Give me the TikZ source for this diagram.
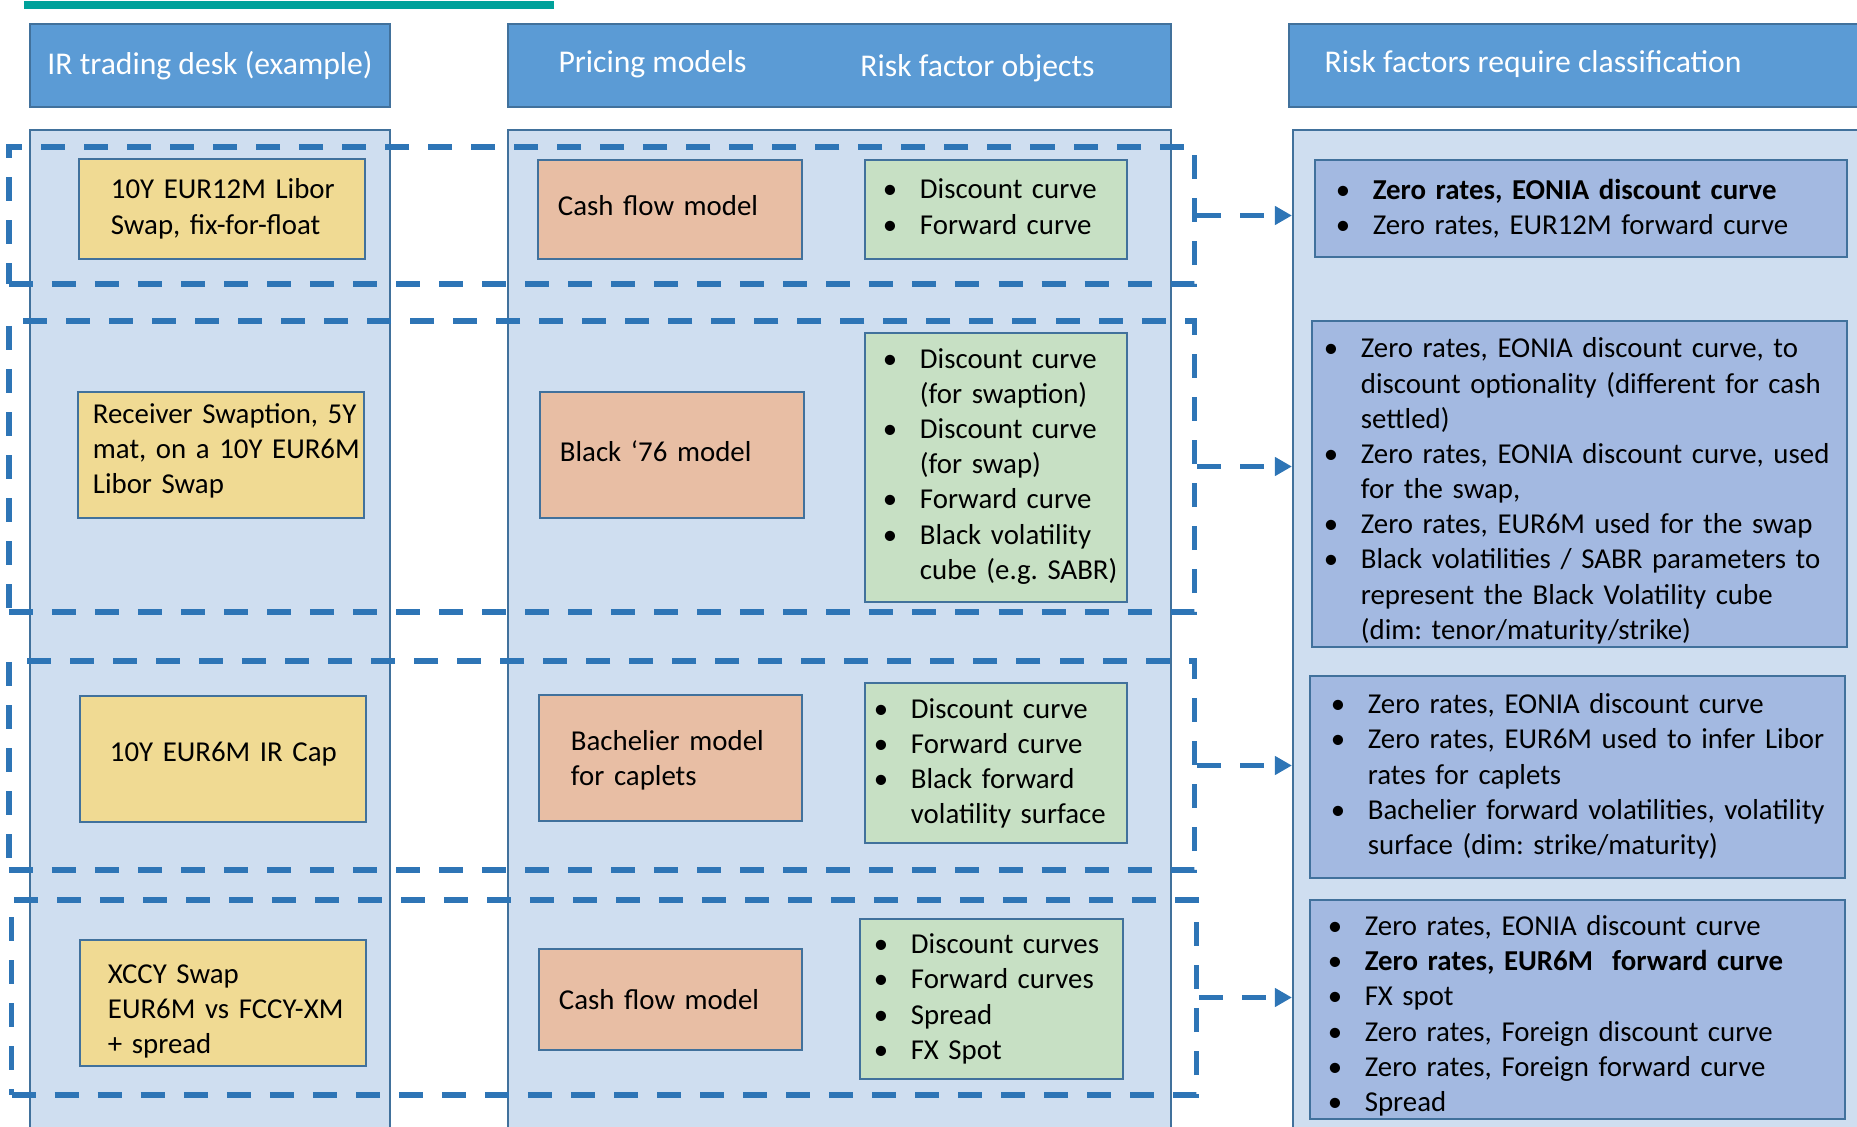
\documentclass[tikz,border=0pt]{standalone}
\usepackage{fontspec}
\setmainfont{Carlito}
\usetikzlibrary{positioning}
\usetikzlibrary{arrows.meta}
\usetikzlibrary{calc}

\definecolor{headblue}{RGB}{91,155,213}
\definecolor{edge}{RGB}{65,113,156}
\definecolor{colfill}{RGB}{207,222,240}
\definecolor{deskyellow}{RGB}{240,218,147}
\definecolor{modelsalmon}{RGB}{232,190,164}
\definecolor{objgreen}{RGB}{199,224,196}
\definecolor{riskblue}{RGB}{163,185,225}
\definecolor{dashblue}{RGB}{46,117,182}
\definecolor{tealbar}{RGB}{0,161,154}

\frenchspacing
\newcommand{\hdrfont}{\fontsize{9}{11}\selectfont}
\newcommand{\bodyfont}{\fontsize{8.2}{10}\selectfont\lineskip=0pt}

% one bullet item, lines broken with \\
\newlength{\bulw}
\setlength{\bulw}{0.37cm}
\newcommand{\itm}[1]{\par\noindent\makebox[\bulw][l]{\textbullet}\begin{tabular}[t]{@{}l@{}}#1\end{tabular}}
% plain lines without wrapping
\newcommand{\lns}[1]{\noindent\begin{tabular}[t]{@{}l@{}}#1\end{tabular}}
% extra space below the text of a box
\newcommand{\liftby}[1]{\par\vspace{#1}\hrule height 0pt}

\begin{document}
\begin{tikzpicture}[x=0.01cm, y=-0.01cm,
	colbox/.style={draw=edge, line width=0.018cm, fill=colfill, minimum height=10.2cm},
	hdr/.style={draw=edge, line width=0.02cm, fill=headblue, text=white, font=\hdrfont, minimum height=0.83cm},
	hdrtxt/.style={text=white, font=\hdrfont, inner sep=0pt},
	box/.style={draw=edge, line width=0.02cm, font=\bodyfont, align=left, inner ysep=0pt},
	ybox/.style={box, fill=deskyellow, minimum width=2.86cm},
	pbox/.style={box, fill=modelsalmon, inner xsep=0.2cm, text width=2.24cm},
	gbox/.style={box, fill=objgreen},
	bbox/.style={box, fill=riskblue},
	lift/.style={execute at end node={\liftby{#1}}},
	grp/.style={draw=dashblue, line width=0.055cm, dash pattern=on 0.24cm off 0.19cm},
	arr/.style={grp, -{Triangle[length=0.17cm, width=0.18cm]}}]

	% frame of the picture
	\useasboundingbox (0,0) rectangle (1857,1127);
	\clip (0,0) rectangle (1857,1127);

	% teal bar on top
	\fill[tealbar] (24,1) rectangle (554,9);

	% columns
	\node[colbox, minimum width=3.60cm] (col1) at (210,640) {};
	\node[colbox, minimum width=6.63cm] (col2) at (839.5,640) {};
	\node[colbox, minimum width=5.97cm] (col3) at (1591.5,640) {};

	% headers
	\node[hdr, minimum width=3.60cm] (head1) at (210,65.5) {IR trading desk (example)};
	\node[hdr, minimum width=6.63cm] (head2) at (839.5,65.5) {};
	\node[hdr, minimum width=6.01cm] (head3) at (1589.5,65.5) {};
	\node[hdrtxt] (pricing) at (652.5,64.5) {Pricing models};
	\node[hdrtxt] (objects) at (977.5,68.5) {Risk factor objects};
	\node[hdrtxt, anchor=west] (classes) at (1324,64.5) {Risk factors require classification};

	% trades
	\node[ybox, minimum height=1.00cm, inner xsep=0.32cm, text width=2.22cm, lift=-0.3pt] (swap) at (222,209)
		{\lns{10Y EUR12M Libor\\Swap, fix-for-float}};
	\node[ybox, minimum height=1.26cm, inner xsep=0.15cm, text width=2.56cm, lift=2pt] (swaption) at (221,455)
		{\lns{Receiver Swaption, 5Y\\mat, on a 10Y EUR6M\\Libor Swap}};
	\node[ybox, minimum height=1.26cm, inner xsep=0.30cm, text width=2.26cm, lift=2.4pt] (cap) at (223,759)
		{\lns{10Y EUR6M IR Cap}};
	\node[ybox, minimum height=1.26cm, inner xsep=0.28cm, text width=2.30cm, lift=-4.7pt] (xccy) at (223,1003)
		{\lns{XCCY Swap\\EUR6M vs FCCY-XM\\+ spread}};

	% pricing models
	\node[pbox, minimum height=0.99cm, lift=2pt] (cashflow) at (670,209.5) {Cash flow model};
	\node[pbox, minimum height=1.26cm, lift=2pt] (black) at (672,455) {Black ‘76 model};
	\node[pbox, minimum height=1.26cm, inner xsep=0.32cm, text width=1.99cm, lift=-1.3pt] (bachelier) at (670.5,758) {Bachelier model\\for caplets};
	\node[pbox, minimum height=1.01cm, text width=2.23cm] (cashflowx) at (670.5,999.5) {Cash flow model};

	% risk factor objects
	\node[gbox, minimum height=0.99cm, inner xsep=0.18cm, text width=2.26cm, lift=3pt] (obj1) at (996,209.5)
		{\itm{Discount curve}\itm{Forward curve}};
	\node[gbox, minimum height=2.63cm, inner xsep=0.18cm, text width=2.26cm, lift=3.4pt] (obj2) at (996,467.5)
		{\itm{Discount curve\\(for swaption)}\itm{Discount curve\\(for swap)}\itm{Forward curve}\itm{Black volatility\\cube (e.g. SABR)}};
	\node[gbox, minimum height=1.60cm, inner xsep=0.09cm, text width=2.44cm, lift=2.4pt] (obj3) at (996,763)
		{\itm{Discount curve}\itm{Forward curve}\itm{Black forward\\volatility surface}};
	\node[gbox, minimum height=1.60cm, inner xsep=0.14cm, text width=2.35cm, lift=2.7pt] (obj4) at (991.5,999)
		{\itm{Discount curves}\itm{Forward curves}\itm{Spread}\itm{FX Spot}};

	% classified risk factors
	\node[bbox, minimum height=0.97cm, inner xsep=0.21cm, text width=4.90cm, lift=2.4pt] (risk1) at (1581,208.5)
		{\itm{\textbf{Zero rates, EONIA discount curve}}\itm{Zero rates, EUR12M forward curve}};
	\node[bbox, minimum height=3.26cm, inner xsep=0.12cm, text width=5.11cm, lift=-1.3pt] (risk2) at (1579.5,484)
		{\itm{Zero rates, EONIA discount curve, to\\discount optionality (different for cash\\settled)}
		 \itm{Zero rates, EONIA discount curve, used\\for the swap,}
		 \itm{Zero rates, EUR6M used for the swap}
		 \itm{Black volatilities / SABR parameters to\\represent the Black Volatility cube\\(dim: tenor/maturity/strike)}};
	\node[bbox, minimum height=2.02cm, inner xsep=0.21cm, text width=4.93cm, lift=3pt] (risk3) at (1577.5,777)
		{\itm{Zero rates, EONIA discount curve}
		 \itm{Zero rates, EUR6M used to infer Libor\\rates for caplets}
		 \itm{Bachelier forward volatilities, volatility\\surface (dim: strike/maturity)}};
	\node[bbox, minimum height=2.15cm, inner xsep=0.18cm, text width=4.99cm, lift=-1pt] (risk4) at (1577.5,1009.5)
		{\itm{Zero rates, EONIA discount curve}\itm{\textbf{Zero rates, EUR6M\ \ forward curve}}\itm{FX spot}
		 \itm{Zero rates, Foreign discount curve}\itm{Zero rates, Foreign forward curve}\itm{Spread}};

	% dashed row groups
	\node[grp, minimum width=11.85cm, minimum height=1.37cm] (row1) at (601.75,215.5) {};
	\node[grp, minimum width=11.85cm, minimum height=2.91cm] (row2) at (601.75,466.5) {};
	\node[grp, minimum width=11.85cm, minimum height=2.09cm] (row3) at (601.75,765.5) {};
	\node[grp, minimum width=11.84cm, minimum height=1.95cm] (row4) at (604,997.5) {};

	% arrows to the classification column
	\foreach \r in {row1,row2,row3,row4}
		{\draw[arr] (\r.east) -- (\r.east -| col3.west);}
\end{tikzpicture}
\end{document}
